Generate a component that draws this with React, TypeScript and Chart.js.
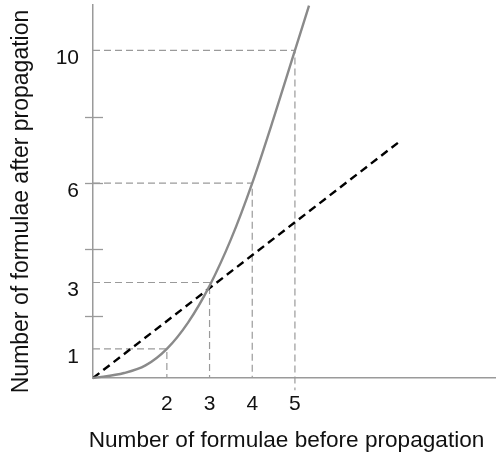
import React, { useEffect, useRef } from "react";
import { Chart, registerables } from "chart.js";

Chart.register(...registerables);

// ---- data ----
const X_TICKS = [2, 3, 4, 5];
const Y_TICKS = [1, 3, 6, 10];
const Y_TICK_MARKS = [2, 4, 6, 8];

const CURVE_X = [0.27, 1, 1.5, 2, 2.5, 3, 3.5, 4, 4.5, 5, 5.33];
const CURVE_Y = [0.12, 0.27, 0.5, 1.0, 1.8, 2.9, 4.3, 6.0, 7.95, 10.0, 11.35];

const LINE_X = [0.27, 7.465];
const LINE_Y = [0.12, 7.265];

const GUIDE_X = [2, 3, 4, 5];
const GUIDE_Y = [1, 3, 6, 10];
const GUIDE_BOTTOM = [0.12, 0.12, 0.12, -0.25];

const X_TITLE = "Number of formulae before propagation";
const Y_TITLE = "Number of formulae after propagation";

const X_MIN = 0.27;
const X_MAX = 9.71;
const Y_MIN = 0.12;
const Y_MAX = 11.37;

const FONT = '"Liberation Sans", Arial, Helvetica, sans-serif';

export default function App() {
  const ref = useRef<HTMLCanvasElement | null>(null);

  useEffect(() => {
    const canvas = ref.current;
    if (!canvas) return;

    const guideSets = GUIDE_X.map((gx, i) => ({
      data: [
        { x: X_MIN, y: GUIDE_Y[i] },
        { x: gx, y: GUIDE_Y[i] },
        { x: gx, y: GUIDE_BOTTOM[i] },
      ],
      borderColor: "#9a9a9a",
      borderWidth: 1.2,
      borderDash: [7, 4],
      pointRadius: 0,
      tension: 0,
      clip: false as any,
    }));

    const decor = {
      id: "decor",
      afterDraw(chart: any) {
        const ctx = chart.ctx;
        const ys = chart.scales.y;
        const area = chart.chartArea;
        ctx.save();
        ctx.strokeStyle = "#9a9a9a";
        ctx.lineWidth = 1.3;
        Y_TICK_MARKS.forEach((v) => {
          const py = Math.round(ys.getPixelForValue(v)) + 0.5;
          ctx.beginPath();
          ctx.moveTo(area.left - 8, py);
          ctx.lineTo(area.left + 10, py);
          ctx.stroke();
        });
        ctx.fillStyle = "#111";
        ctx.font = `22.6px ${FONT}`;
        ctx.textAlign = "center";
        ctx.textBaseline = "alphabetic";
        ctx.fillText(X_TITLE, 286.5, 447);
        ctx.translate(28, 201.5);
        ctx.rotate(-Math.PI / 2);
        ctx.font = `23px ${FONT}`;
        ctx.fillText(Y_TITLE, 0, 0);
        ctx.restore();
      },
    };

    const noPad = (s: any) => {
      s.paddingTop = 0;
      s.paddingBottom = 0;
      s.paddingLeft = 0;
      s.paddingRight = 0;
    };

    const chart = new Chart(canvas, {
      type: "line",
      data: {
        datasets: [
          {
            data: CURVE_X.map((x, i) => ({ x, y: CURVE_Y[i] })),
            borderColor: "#8a8a8a",
            borderWidth: 2.4,
            pointRadius: 0,
            cubicInterpolationMode: "monotone",
            clip: false as any,
          },
          {
            data: LINE_X.map((x, i) => ({ x, y: LINE_Y[i] })),
            borderColor: "#000",
            borderWidth: 2.4,
            borderDash: [8, 5],
            pointRadius: 0,
          },
          ...guideSets,
        ] as any,
      },
      options: {
        animation: false,
        responsive: false,
        maintainAspectRatio: false,
        layout: { padding: { top: 5, right: 0, left: 0, bottom: 0 } },
        plugins: {
          legend: { display: false },
          tooltip: { enabled: false },
        },
        scales: {
          x: {
            type: "linear",
            min: X_MIN,
            max: X_MAX,
            afterBuildTicks: (s: any) => {
              s.ticks = X_TICKS.map((v) => ({ value: v }));
            },
            afterFit: (s: any) => {
              s.height = 80;
              noPad(s);
            },
            grid: { display: false, drawTicks: false },
            border: { display: true, color: "#9a9a9a", width: 1.5 },
            ticks: {
              color: "#111",
              font: { family: FONT, size: 21 },
              padding: 14,
              maxRotation: 0,
              autoSkip: false,
              callback: (v: any) => String(v),
            },
          },
          y: {
            type: "linear",
            min: Y_MIN,
            max: Y_MAX,
            afterBuildTicks: (s: any) => {
              s.ticks = Y_TICKS.map((v) => ({ value: v }));
            },
            afterFit: (s: any) => {
              s.width = 93;
              noPad(s);
            },
            grid: { display: false, drawTicks: false },
            border: { display: true, color: "#9a9a9a", width: 1.5 },
            ticks: {
              color: "#111",
              font: { family: FONT, size: 21 },
              padding: 14,
              labelOffset: 8,
              autoSkip: false,
              callback: (v: any) => String(v),
            },
          },
        },
      },
      plugins: [decor],
    });

    return () => chart.destroy();
  }, []);

  return (
    <div style={{ position: "fixed", left: 0, top: 0, width: 496, height: 458, background: "#fff" }}>
      <canvas ref={ref} width={496} height={458} style={{ display: "block", width: 496, height: 458 }} />
    </div>
  );
}
